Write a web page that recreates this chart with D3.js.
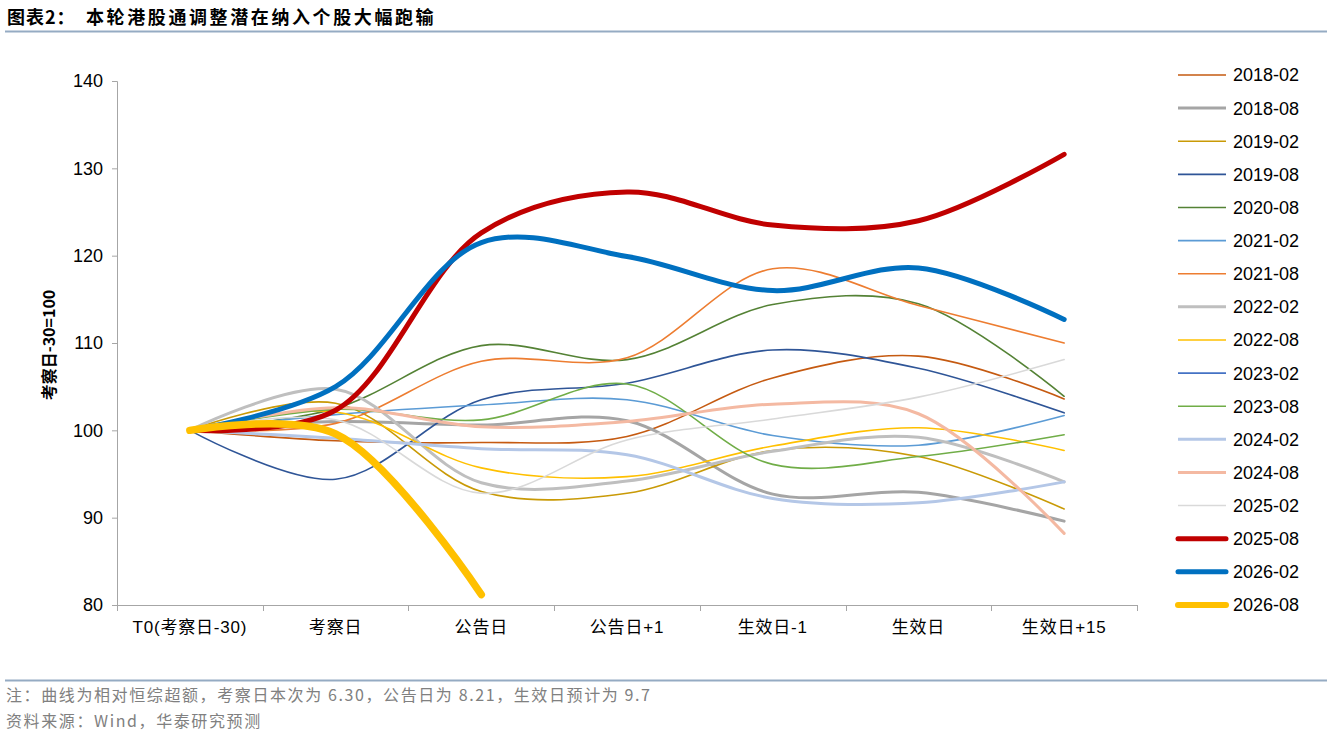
<!DOCTYPE html>
<html>
<head>
<meta charset="utf-8">
<script src="https://cdn.jsdelivr.net/npm/d3@7"></script>
<style>
  body { margin: 0; background: #fff; }
  svg { display: block; }
</style>
</head>
<body>
<div id="chart"></div>
<script>
// categories on the x axis
const categories = ["T0(考察日-30)", "考察日", "公告日", "公告日+1", "生效日-1", "生效日", "生效日+15"];
const yTicks = [80, 90, 100, 110, 120, 130, 140];

// series values (relative excess vs HSCI, T0 = 100)
const s2018_02 = [100, 98.8, 98.6, 99.3, 106.0, 108.5, 103.6];
const s2018_08 = [100, 101.0, 100.6, 101.1, 92.7, 92.9, 89.6];
const s2019_02 = [100, 103.1, 93.0, 92.8, 97.7, 97.0, 91.0];
const s2019_08 = [100, 94.4, 103.5, 105.4, 109.2, 107.1, 102.0];
const s2020_08 = [100, 102.5, 109.7, 108.1, 114.4, 114.5, 103.9];
const s2021_02 = [100, 101.8, 102.9, 103.5, 99.4, 98.3, 101.7];
const s2021_08 = [100, 100.8, 107.9, 108.3, 118.5, 114.3, 110.0];
const s2022_02 = [100, 104.7, 94.0, 94.2, 97.6, 99.2, 94.1];
const s2022_08 = [100, 102.1, 95.7, 94.7, 98.2, 100.3, 97.7];
const s2023_02 = [];
const s2023_08 = [100, 102.4, 101.2, 105.3, 96.1, 97.0, 99.5];
const s2024_02 = [100, 99.1, 97.9, 97.2, 92.2, 91.7, 94.1];
const s2024_08 = [100, 102.6, 100.4, 101.0, 103.0, 101.9, 88.2];
const s2025_02 = [100, 101.2, 92.8, 98.9, 101.3, 103.8, 108.1];
const s2025_08 = [100, 102.3, 122.6, 127.3, 123.5, 124.0, 131.6];
const s2026_02 = [100, 105.0, 121.5, 119.9, 116.0, 118.6, 112.7];
const s2026_08 = [100, 99.6, 81.2];

const seriesNames = ["2018-02", "2018-08", "2019-02", "2019-08", "2020-08", "2021-02", "2021-08",
  "2022-02", "2022-08", "2023-02", "2023-08", "2024-02", "2024-08", "2025-02", "2025-08", "2026-02", "2026-08"];
const seriesValues = [s2018_02, s2018_08, s2019_02, s2019_08, s2020_08, s2021_02, s2021_08,
  s2022_02, s2022_08, s2023_02, s2023_08, s2024_02, s2024_08, s2025_02, s2025_08, s2026_02, s2026_08];

// line styles
const style = {
  "2018-02": { color: "#C55A11", w: 1.6 },
  "2018-08": { color: "#A5A5A5", w: 3 },
  "2019-02": { color: "#C99A06", w: 1.6 },
  "2019-08": { color: "#2F5597", w: 1.6 },
  "2020-08": { color: "#548235", w: 1.6 },
  "2021-02": { color: "#5B9BD5", w: 1.6 },
  "2021-08": { color: "#ED7D31", w: 1.6 },
  "2022-02": { color: "#BFBFBF", w: 3 },
  "2022-08": { color: "#FFC000", w: 1.6 },
  "2023-02": { color: "#4472C4", w: 1.6 },
  "2023-08": { color: "#70AD47", w: 1.6 },
  "2024-02": { color: "#B4C7E7", w: 3 },
  "2024-08": { color: "#F4B9A2", w: 3 },
  "2025-02": { color: "#D9D9D9", w: 1.6 },
  "2025-08": { color: "#C00000", w: 5 },
  "2026-02": { color: "#0070C0", w: 5 },
  "2026-08": { color: "#FFC000", w: 7.5 }
};

const series = seriesNames.map((name, i) => ({ name, values: seriesValues[i] }));

const W = 1337, H = 737;
const fontLatin = "'Liberation Sans', Arial, 'Noto Sans CJK SC', sans-serif";
const fontCJK = "'Noto Sans CJK SC', 'Liberation Sans', sans-serif";

const svg = d3.select("#chart").append("svg")
  .attr("width", W).attr("height", H)
  .attr("font-family", fontLatin);

// title
svg.append("text")
  .attr("x", 7).attr("y", 24)
  .attr("font-family", fontCJK)
  .attr("font-size", 18).attr("font-weight", "bold")
  .attr("letter-spacing", 1)
  .text("图表2：");
svg.append("text")
  .attr("x", 86).attr("y", 24)
  .attr("font-family", fontCJK)
  .attr("font-size", 18).attr("font-weight", "bold")
  .attr("letter-spacing", 2.6)
  .text("本轮港股通调整潜在纳入个股大幅跑输");
svg.append("line")
  .attr("x1", 5).attr("x2", 1327).attr("y1", 31.5).attr("y2", 31.5)
  .attr("stroke", "#95ABC3").attr("stroke-width", 2);

const x = d3.scaleBand().domain(categories).range([117, 1137]);
const cx = (i) => x(categories[i]) + x.bandwidth() / 2;
const y = d3.scaleLinear().domain([80, 140]).range([605, 81]);

// y axis
const yAxis = svg.append("g")
  .attr("transform", "translate(117,0)")
  .call(d3.axisLeft(y).tickValues(yTicks).tickSize(5).tickPadding(9));
yAxis.select(".domain").attr("stroke", "#A6A6A6");
yAxis.selectAll(".tick line").attr("stroke", "#A6A6A6");
yAxis.selectAll(".tick text").attr("font-size", 18).attr("fill", "#000")
  .attr("font-family", fontLatin);

// x axis
const xAxis = svg.append("g")
  .attr("transform", "translate(0,605)")
  .call(d3.axisBottom(x).tickSize(0).tickPadding(16));
xAxis.select(".domain").attr("stroke", "#A6A6A6").attr("d", "M117,0.5H1137");
xAxis.selectAll(".tick text").attr("font-size", 17).attr("fill", "#000")
  .attr("letter-spacing", 0.8)
  .attr("font-family", fontLatin);
xAxis.selectAll(".bound")
  .data(categories.map((c) => x(c)).concat([x.range()[1]]))
  .join("line")
  .attr("class", "bound")
  .attr("x1", (d) => Math.round(d) + 0.5).attr("x2", (d) => Math.round(d) + 0.5)
  .attr("y1", 0).attr("y2", 6)
  .attr("stroke", "#A6A6A6");

// y axis title
svg.append("text")
  .attr("transform", "translate(55,345) rotate(-90)")
  .attr("text-anchor", "middle")
  .attr("font-size", 16).attr("font-weight", "bold")
  .attr("font-family", fontCJK)
  .text("考察日-30=100");

// lines
const line = d3.line()
  .x((d, i) => cx(i))
  .y((d) => y(d))
  .curve(d3.curveCatmullRom.alpha(0.5));

svg.append("g")
  .attr("fill", "none")
  .attr("stroke-linecap", "round")
  .attr("stroke-linejoin", "round")
  .selectAll("path")
  .data(series.filter((s) => s.values.length > 1))
  .join("path")
  .attr("stroke", (d) => style[d.name].color)
  .attr("stroke-width", (d) => style[d.name].w)
  .attr("d", (d) => line(d.values));

// legend
const legend = svg.append("g")
  .selectAll("g")
  .data(series)
  .join("g")
  .attr("transform", (d, i) => `translate(0,${75 + i * 33.12})`);
legend.append("line")
  .attr("x1", 1178).attr("x2", 1226)
  .attr("stroke", (d) => style[d.name].color)
  .attr("stroke-width", (d) => Math.min(style[d.name].w, 6))
  .attr("stroke-linecap", (d) => (style[d.name].w >= 5 ? "round" : "butt"));
legend.append("text")
  .attr("x", 1233).attr("dy", "0.36em")
  .attr("font-size", 18).attr("fill", "#000")
  .text((d) => d.name);

// footer
svg.append("line")
  .attr("x1", 5).attr("x2", 1327).attr("y1", 680.5).attr("y2", 680.5)
  .attr("stroke", "#95ABC3").attr("stroke-width", 2);
svg.append("text")
  .attr("x", 6).attr("y", 701)
  .attr("font-size", 16).attr("fill", "#808080")
  .attr("letter-spacing", 1.6)
  .attr("font-family", fontCJK)
  .text("注：曲线为相对恒综超额，考察日本次为 6.30，公告日为 8.21，生效日预计为 9.7");
svg.append("text")
  .attr("x", 6).attr("y", 727)
  .attr("font-size", 16).attr("fill", "#808080")
  .attr("letter-spacing", 1.6)
  .attr("font-family", fontCJK)
  .text("资料来源：Wind，华泰研究预测");
</script>
</body>
</html>
